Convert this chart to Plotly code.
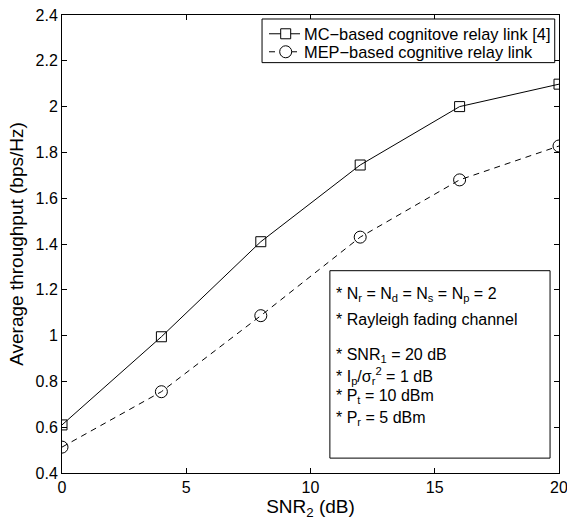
import plotly.graph_objects as go

# SNR_2 sweep (dB) and average throughput (bps/Hz)
snr2_db = [0, 4, 8, 12, 16, 20]
mc_throughput = [0.61, 0.995, 1.41, 1.745, 2.0, 2.098]
mep_throughput = [0.513, 0.755, 1.087, 1.43, 1.68, 1.828]

x_ticks = [0, 5, 10, 15, 20]
y_ticks = [0.4, 0.6, 0.8, 1.0, 1.2, 1.4, 1.6, 1.8, 2.0, 2.2, 2.4]
y_tick_text = ["0.4", "0.6", "0.8", "1", "1.2", "1.4", "1.6", "1.8", "2", "2.2", "2.4"]

series_names = ["MC\u2212based cognitove relay link [4]",
                "MEP\u2212based cognitive relay link"]

param_lines = [
    "* N<sub>r</sub> = N<sub>d</sub> = N<sub>s</sub> = N<sub>p</sub> = 2",
    "* Rayleigh fading channel",
    "* SNR<sub>1</sub> = 20 dB",
    "* I<sub>p</sub>/\u03c3<sub>r</sub><sup>2</sup> = 1 dB",
    "* P<sub>t</sub> = 10 dBm",
    "* P<sub>r</sub> = 5 dBm",
]
param_y = [0.389, 0.335, 0.256, 0.212, 0.167, 0.119]

FONT = "Liberation Sans, Arial, Helvetica, sans-serif"
LINE_DASH = "6px,5px"

fig = go.Figure()
fig.add_trace(go.Scatter(
    x=snr2_db, y=mc_throughput, name=series_names[0],
    mode="lines+markers",
    line=dict(color="black", width=1),
    marker=dict(symbol="square-open", size=10, color="black", line=dict(width=1)),
))
fig.add_trace(go.Scatter(
    x=snr2_db, y=mep_throughput, name=series_names[1],
    mode="lines+markers",
    line=dict(color="black", width=1, dash=LINE_DASH),
    marker=dict(symbol="circle-open", size=12, color="black", line=dict(width=1)),
))

# legend box (drawn by hand for compact row spacing)
fig.add_shape(type="rect", xref="paper", yref="paper",
              x0=0.4025, x1=0.9914, y0=0.896, y1=0.9913,
              line=dict(color="black", width=1), fillcolor="white")
legend_rows = [0.9590, 0.9197]
sample_x0, sample_x1, sample_mid, text_x = 0.4165, 0.4789, 0.4501, 0.4829
for i, (name, ry) in enumerate(zip(series_names, legend_rows)):
    fig.add_shape(type="line", xref="paper", yref="paper",
                  x0=sample_x0, x1=sample_x1, y0=ry, y1=ry,
                  line=dict(color="black", width=1,
                            dash="solid" if i == 0 else LINE_DASH))
    half = 5 if i == 0 else 6
    fig.add_shape(type="rect" if i == 0 else "circle",
                  xref="paper", yref="paper",
                  xsizemode="pixel", ysizemode="pixel",
                  xanchor=sample_mid, yanchor=ry,
                  x0=-half, x1=half, y0=-half, y1=half,
                  line=dict(color="black", width=1), fillcolor="white")
    fig.add_annotation(text=name, xref="paper", yref="paper", x=text_x, y=ry,
                       xanchor="left", yanchor="middle", showarrow=False,
                       font=dict(family=FONT, size=16.4, color="black"))

# parameter box
fig.add_shape(type="rect", xref="paper", yref="paper",
              x0=0.539, x1=0.982, y0=0.0325, y1=0.4417,
              line=dict(color="black", width=1), fillcolor="white", layer="below")
for txt, yy in zip(param_lines, param_y):
    fig.add_annotation(text=txt, xref="paper", yref="paper", x=0.547, y=yy,
                       xanchor="left", yanchor="middle", showarrow=False,
                       font=dict(family=FONT, size=16, color="black"))

axis_common = dict(
    showgrid=False, zeroline=False, showline=True, linecolor="black", linewidth=1,
    mirror="ticks", ticks="inside", ticklen=5, tickcolor="black", tickwidth=1,
    tickfont=dict(family=FONT, size=16, color="black"), automargin=False,
    ticklabeloverflow="allow",
)

fig.update_layout(
    width=567, height=520,
    margin=dict(l=62, r=8, t=15, b=47),
    paper_bgcolor="white", plot_bgcolor="white",
    font=dict(family=FONT, color="black"),
    showlegend=False,
    xaxis=dict(range=[0, 20], tickvals=x_ticks,
               title=dict(text="SNR<sub>2</sub> (dB)", standoff=2,
                          font=dict(family=FONT, size=19, color="black")),
               **axis_common),
    yaxis=dict(range=[0.4, 2.4], tickvals=y_ticks, ticktext=y_tick_text,
               title=dict(text="Average throughput (bps/Hz)", standoff=6,
                          font=dict(family=FONT, size=19, color="black")),
               **axis_common),
)

fig.write_html("out.html")
